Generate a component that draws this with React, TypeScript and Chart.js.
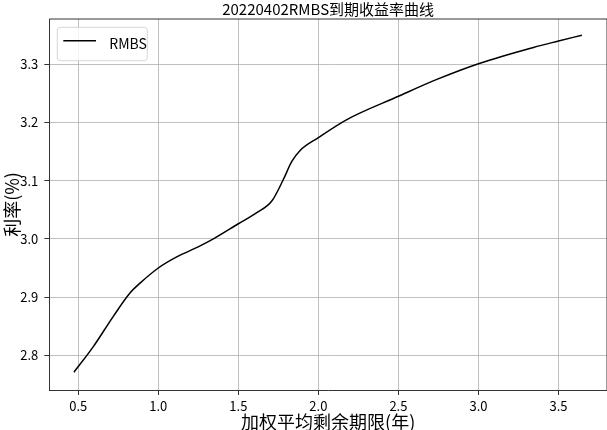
import React, { useEffect, useRef } from "react";
import { Chart, registerables } from "chart.js";

Chart.register(...registerables);

const chartTitle = "20220402RMBS到期收益率曲线";
const xAxisTitle = "加权平均剩余期限(年)";
const yAxisTitle = "利率(%)";
const seriesLabel = "RMBS";

// weighted average remaining term (years)
const maturities = [
  0.473, 0.594, 0.719, 0.823, 0.886, 1.0, 1.115, 1.261, 1.344, 1.5, 1.615,
  1.709, 1.781, 1.834, 1.886, 2.0, 2.178, 2.5, 2.74, 3.0, 3.344, 3.5, 3.646,
];
// yield (%)
const rates = [
  2.771, 2.815, 2.867, 2.907, 2.924, 2.95, 2.969, 2.988, 3.0, 3.026, 3.045,
  3.065, 3.102, 3.133, 3.152, 3.174, 3.205, 3.245, 3.274, 3.301, 3.329, 3.34,
  3.35,
];

const xRange = [0.319, 3.803];
const yRange = [2.7404, 3.3778];
const xStep = 0.5;
const yStep = 0.1;

const FONT = '"Noto Sans CJK SC", "Noto Sans", sans-serif';

const decorPlugin = {
  id: "decor",
  afterDraw(chart: any) {
    const { ctx, chartArea: a } = chart;
    ctx.save();
    // top & right spines
    ctx.strokeStyle = "#000";
    ctx.lineWidth = 0.8;
    ctx.beginPath();
    ctx.moveTo(a.left, a.top);
    ctx.lineTo(a.right, a.top);
    ctx.lineTo(a.right, a.bottom);
    ctx.stroke();

    ctx.fillStyle = "#000";
    ctx.textAlign = "center";
    ctx.textBaseline = "middle";
    ctx.font = `15px ${FONT}`;
    ctx.fillText(chartTitle, (a.left + a.right) / 2, 9.5);

    ctx.font = `18px ${FONT}`;
    ctx.fillText(xAxisTitle, (a.left + a.right) / 2, 422);

    ctx.save();
    ctx.translate(12, (a.top + a.bottom) / 2);
    ctx.rotate(-Math.PI / 2);
    ctx.fillText(yAxisTitle, 0, 0);
    ctx.restore();

    // legend
    const ds = chart.data.datasets[0];
    const lx = a.left + 8;
    const ly = a.top + 8.3;
    const lw = 90;
    const lh = 33.4;
    ctx.beginPath();
    ctx.roundRect(lx, ly, lw, lh, 3);
    ctx.fillStyle = "rgba(255,255,255,0.8)";
    ctx.fill();
    ctx.strokeStyle = "#cccccc";
    ctx.lineWidth = 0.8;
    ctx.stroke();

    ctx.beginPath();
    ctx.strokeStyle = ds.borderColor;
    ctx.lineWidth = 1.5;
    ctx.moveTo(lx + 6, ly + 13.4);
    ctx.lineTo(lx + 38.7, ly + 13.4);
    ctx.stroke();

    ctx.fillStyle = "#000";
    ctx.textAlign = "left";
    ctx.textBaseline = "middle";
    ctx.font = `14px ${FONT}`;
    ctx.fillText(ds.label, lx + 52, ly + 16.7);
    ctx.restore();
  },
};

export default function App() {
  const ref = useRef<HTMLCanvasElement>(null);

  useEffect(() => {
    if (!ref.current) return;
    const points = maturities.map((x, i) => ({ x, y: rates[i] }));
    const tickFont = { family: FONT, size: 13 };
    const chart = new Chart(ref.current, {
      type: "scatter",
      data: {
        datasets: [
          {
            label: seriesLabel,
            data: points,
            showLine: true,
            borderColor: "#000000",
            backgroundColor: "#000000",
            borderWidth: 1.5,
            pointRadius: 0,
            cubicInterpolationMode: "monotone",
          } as any,
        ],
      },
      options: {
        animation: false,
        responsive: false,
        layout: { padding: { top: 19, left: 0, right: 0, bottom: 0 } },
        plugins: {
          legend: { display: false },
          title: { display: false },
          tooltip: { enabled: false },
        },
        scales: {
          x: {
            type: "linear",
            min: xRange[0],
            max: xRange[1],
            afterFit: (s: any) => {
              s.height = 40;
            },
            ticks: {
              stepSize: xStep,
              includeBounds: false,
              color: "#000",
              font: tickFont,
              padding: 3,
              maxRotation: 0,
              callback: (v: any) => Number(v).toFixed(1),
            },
            grid: {
              color: "#b0b0b0",
              lineWidth: 0.8,
              tickColor: "#000",
              tickLength: 5,
              drawTicks: true,
            },
            border: { color: "#000", width: 0.8 },
          },
          y: {
            type: "linear",
            min: yRange[0],
            max: yRange[1],
            afterFit: (s: any) => {
              s.width = 49.3;
            },
            ticks: {
              stepSize: yStep,
              includeBounds: false,
              color: "#000",
              font: tickFont,
              padding: 6,
              callback: (v: any) => Number(v).toFixed(1),
            },
            grid: {
              color: "#b0b0b0",
              lineWidth: 0.8,
              tickColor: "#000",
              tickLength: 5,
              drawTicks: true,
            },
            border: { color: "#000", width: 0.8 },
          },
        },
      },
      plugins: [decorPlugin],
    });
    return () => chart.destroy();
  }, []);

  return (
    <div style={{ position: "fixed", left: 0, top: 0, width: 607, height: 430, background: "#fff" }}>
      <canvas ref={ref} width={607} height={430} />
    </div>
  );
}
